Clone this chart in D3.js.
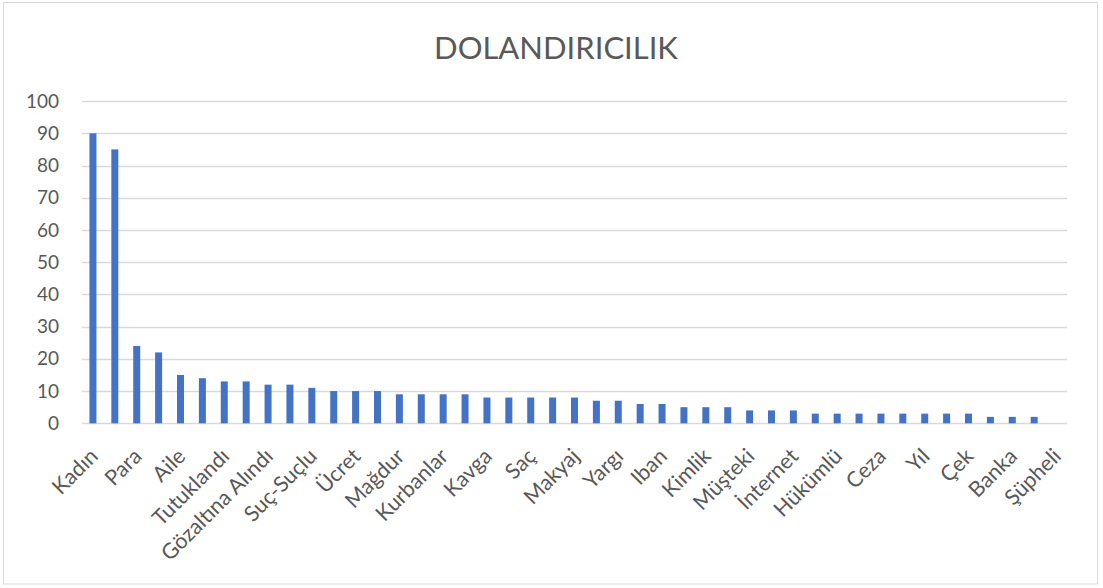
<!DOCTYPE html>
<html>
<head>
<meta charset="utf-8">
<script src="https://cdn.jsdelivr.net/npm/d3@7"></script>
<style>
  html, body { margin: 0; padding: 0; background: #fff; }
  svg { display: block; }
  text { font-family: Lato, "Open Sans", sans-serif; fill: #595959; }
</style>
</head>
<body>
<svg id="chart" width="1103" height="588"></svg>
<script>
// Category labels (only every other label is shown on the axis; hidden ones are null)
const labels = [
  "Kadın", null, "Para", null, "Aile", null, "Tutuklandı", null,
  "Gözaltına Alındı", null, "Suç-Suçlu", null, "Ücret", null, "Mağdur", null,
  "Kurbanlar", null, "Kavga", null, "Saç", null, "Makyaj", null,
  "Yargı", null, "Iban", null, "Kimlik", null, "Müşteki", null,
  "İnternet", null, "Hükümlü", null, "Ceza", null, "Yıl", null,
  "Çek", null, "Banka", null, "Şüpheli"
];
const values = [
  90, 85, 24, 22, 15, 14, 13, 13, 12, 12, 11, 10, 10, 10, 9,
  9, 9, 9, 8, 8, 8, 8, 8, 7, 7, 6, 6, 5, 5, 5,
  4, 4, 4, 3, 3, 3, 3, 3, 3, 3, 3, 2, 2, 2, 0
];
const yTicks = [0, 10, 20, 30, 40, 50, 60, 70, 80, 90, 100];
const title = "DOLANDIRICILIK";

const svg = d3.select("#chart");
const plot = { left: 82, right: 1067, top: 101.1, bottom: 423.3 };

// chart border
svg.append("rect")
  .attr("x", 3.5).attr("y", 2.5)
  .attr("width", 1094).attr("height", 581.5)
  .attr("fill", "#fff").attr("stroke", "#d9d9d9").attr("stroke-width", 1);

const idx = values.map((d, i) => i);
const x = d3.scaleBand()
  .domain(idx)
  .range([plot.left, plot.right])
  .paddingInner(0.68)
  .paddingOuter(0.34);

const y = d3.scaleLinear()
  .domain([0, 100])
  .range([plot.bottom, plot.top]);

// gridlines
svg.append("g")
  .selectAll("line")
  .data(yTicks)
  .join("line")
  .attr("x1", plot.left).attr("x2", plot.right)
  .attr("y1", d => Math.round(y(d)) + 0.5)
  .attr("y2", d => Math.round(y(d)) + 0.5)
  .attr("stroke", "#d9d9d9").attr("stroke-width", 1.3);

// y axis labels
const yAxis = d3.axisLeft(y).tickValues(yTicks).tickSize(0).tickPadding(0);
const gy = svg.append("g")
  .attr("transform", `translate(${plot.left - 23},0)`)
  .call(yAxis);
gy.select(".domain").remove();
gy.selectAll("text")
  .style("font-size", "19px")
  .style("font-family", "Lato, 'Open Sans', sans-serif")
  .attr("fill", "#595959");

// bars
svg.append("g")
  .selectAll("rect")
  .data(values)
  .join("rect")
  .attr("x", (d, i) => x(i))
  .attr("width", x.bandwidth())
  .attr("y", d => y(d))
  .attr("height", d => y(0) - y(d))
  .attr("fill", "#4472c4");

// x axis labels
const xAxis = d3.axisBottom(x)
  .tickValues(idx.filter(i => labels[i]))
  .tickFormat(i => labels[i])
  .tickSize(0);
const gx = svg.append("g")
  .attr("transform", `translate(0,${plot.bottom})`)
  .call(xAxis);
gx.select(".domain").remove();
gx.selectAll("text")
  .style("font-size", "21.5px")
  .style("font-family", "Lato, 'Open Sans', sans-serif")
  .attr("fill", "#595959")
  .attr("text-anchor", "end")
  .attr("transform", "translate(1,29) rotate(-45)")
  .attr("dy", "0.35em")
  .attr("y", 0);

// title
svg.append("text")
  .attr("x", 556).attr("y", 59)
  .attr("text-anchor", "middle")
  .style("font-size", "31px")
  .style("font-family", "Lato, 'Open Sans', sans-serif")
  .attr("fill", "#595959")
  .text(title);
</script>
</body>
</html>
